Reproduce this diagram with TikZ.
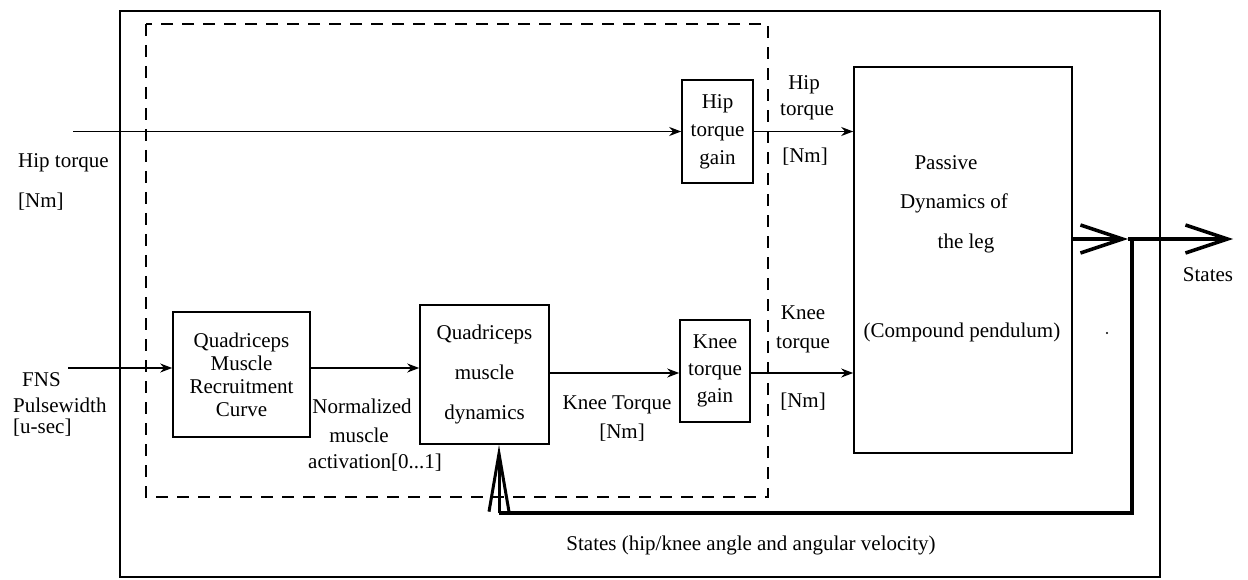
\documentclass[tikz,border=0pt]{standalone}
\usepackage{fontspec}
\setmainfont{Liberation Serif}
\usetikzlibrary{arrows.meta}
\begin{document}
\begin{tikzpicture}[x=1pt,y=-1pt,
  every node/.style={font=\fontsize{21}{23}\selectfont, inner sep=0pt},
  blk/.style={draw, line width=1.6pt, align=center},
  thinarrow/.style={line width=1.6pt, -{Stealth[length=12pt,width=9pt]}},
  bigarrow/.style={line width=3.5pt, -{Straight Barb[length=42pt,width=28pt]}},
  fbline/.style={line width=3.5pt},
  fbarrow/.style={line width=3pt, -{Straight Barb[length=58pt,width=20pt]}},
  lbl/.style={align=center}]
\useasboundingbox (0,0) rectangle (1248,580);

% outer and dashed boxes
\draw[line width=2pt] (120,11) rectangle (1160,577);
\draw[line width=1.6pt, dash pattern=on 12pt off 9pt] (146,24) rectangle (768,497);

% blocks
\node[blk, minimum width=71pt, minimum height=103pt, font=\fontsize{21}{28}\selectfont] (hipgain) at (717.5,131.5) {Hip\\torque\\gain};
\node[blk, minimum width=137pt, minimum height=125pt, font=\fontsize{21}{23}\selectfont] (recr) at (241.5,374.5) {Quadriceps\\Muscle\\Recruitment\\Curve};
\node[blk, minimum width=129pt, minimum height=139pt, font=\fontsize{21}{40}\selectfont] (dyn) at (484.5,374.5) {Quadriceps\\muscle\\dynamics};
\node[blk, minimum width=70pt, minimum height=102pt, font=\fontsize{21}{27}\selectfont] (kg) at (715,371) {Knee\\torque\\gain};
\node[blk, minimum width=218pt, minimum height=386pt] (pas) at (963,260) {};
\node (pas1) at (946,163) {Passive};
\node (pas2) at (954,203) {Dynamics of};
\node (pas3) at (966,243) {the leg};
\node (pas4) at (962,332) {(Compound pendulum)};
\fill (1107,333) circle (1.2pt);

% coordinates
\coordinate (hipin) at (73,131.5);
\coordinate (fnsin) at (68,368);
\coordinate (kt) at (549,373);
\coordinate (j1) at (1128,239);
\coordinate (jn) at (1132,239);
\coordinate (sout) at (1233,239);
\coordinate (fbcorner) at (499,513);

% connectors
\draw[thinarrow] (hipin) -- (hipgain.west);
\draw[thinarrow] (hipgain.east) -- (pas.west |- hipgain.east);
\draw[thinarrow] (fnsin) -- (recr.west |- fnsin);
\draw[thinarrow] (recr.east |- fnsin) -- (dyn.west |- fnsin);
\draw[thinarrow] (dyn.east |- kt) -- (kg.west |- kt);
\draw[thinarrow] (kg.east |- kt) -- (pas.west |- kt);
\draw[bigarrow] (pas.east |- j1) -- (j1);
\draw[fbline] (j1) -- (jn);
\draw[bigarrow] (jn) -- (sout);
\draw[fbline] (jn) -- (jn |- fbcorner) -- (fbcorner);
\draw[fbarrow] (fbcorner) -- (fbcorner |- dyn.south);

% labels
\node[anchor=west] (l1) at (18,163) {Hip torque};
\node[anchor=west] (l2) at (18,202) {[Nm]};
\node[anchor=west] (l3) at (22,380) {FNS};
\node[anchor=west] (l4) at (13,405) {Pulsewidth};
\node[anchor=west] (l5) at (13,428) {[u-sec]};
\node (l6) at (804,85) {Hip};
\node (l7) at (807,112) {torque};
\node (l8) at (805,157) {[Nm]};
\node (l9) at (803,313) {Knee};
\node (l10) at (803,345) {torque};
\node (l11) at (803,402) {[Nm]};
\node (l12) at (617,405) {Knee Torque};
\node (l13) at (622,433) {[Nm]};
\node (l14) at (362,406) {Normalized};
\node (l15) at (359,435) {muscle};
\node (l16) at (375,463) {activation[0...1]};
\node (l17) at (1208,275) {States};
\node (l18) at (751,545) {States (hip/knee angle and angular velocity)};
\end{tikzpicture}
\end{document}
